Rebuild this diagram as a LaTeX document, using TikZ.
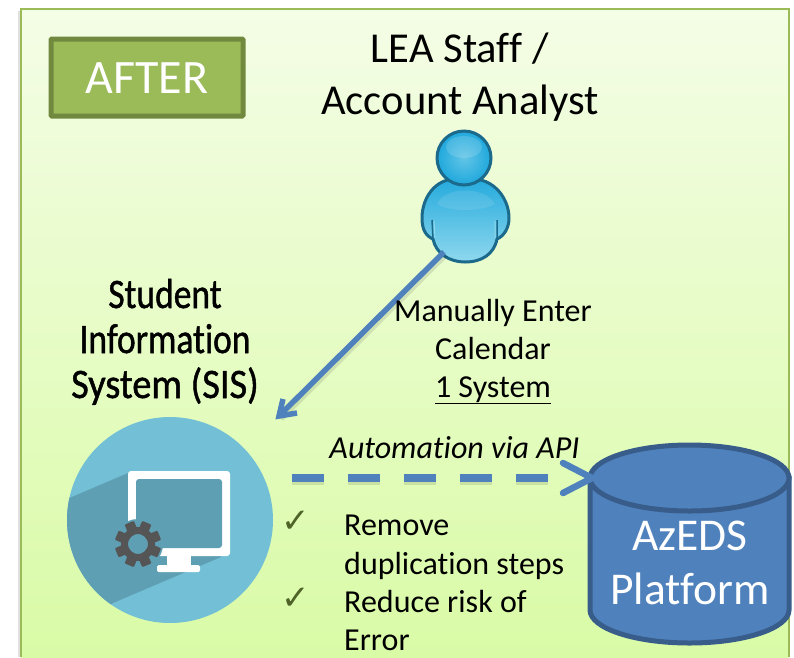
\documentclass[tikz,border=0pt]{standalone}
\usepackage{fontspec}
\setmainfont[Ligatures=NoCommon]{Carlito}
\newfontfamily\symfont{DejaVu Sans}
\newfontfamily\condfont[FakeBold=1.2,Ligatures=NoCommon]{Carlito}
\usetikzlibrary{arrows.meta,shadings}
\definecolor{panelline}{HTML}{9BBB59}
\definecolor{paneltop}{HTML}{F4FDE6}
\definecolor{panelbot}{HTML}{D9FBA6}
\definecolor{tagfill}{HTML}{9BBB59}
\definecolor{tagline}{HTML}{71893F}
\definecolor{flow}{HTML}{4F81BD}
\definecolor{flowdark}{HTML}{385D8A}
\definecolor{disc}{HTML}{72BFD6}
\definecolor{discshade}{HTML}{5F9FB3}
\definecolor{gearc}{HTML}{555555}
\definecolor{persona}{HTML}{1B6A8C}
\definecolor{personb}{HTML}{1FA8DC}
\definecolor{personc}{HTML}{8FD8EE}
\definecolor{checkc}{HTML}{4F6228}
\tikzset{
  x=1pt,y=-1pt,
  label28/.style={anchor=base,font=\fontsize{32}{32}\selectfont,inner sep=0pt},
  label38/.style={anchor=base,font=\fontsize{42.6}{42.6}\selectfont,inner sep=0pt},
  narrow/.style={anchor=base,font=\condfont\fontsize{42}{42}\selectfont,inner sep=0pt,xscale=.845},
  bullet/.style={anchor=base west,font=\fontsize{32}{32}\selectfont,inner sep=0pt},
  check/.style={anchor=base,font=\symfont\fontsize{34}{34}\selectfont,text=checkc,inner sep=0pt},
  white40/.style={anchor=base,font=\fontsize{45.5}{45.5}\selectfont,text=white,inner sep=0pt},
  flowline/.style={draw=flow,line width=5.5pt},
  dashline/.style={draw=flow,line width=8pt,dash pattern=on 32pt off 24pt},
  tiphead/.style={draw=flow,line width=6.5pt,line cap=round,line join=miter},
  shadowline/.style={draw=black,opacity=.10,line width=5pt},
  anchorbox/.style={inner sep=0pt,minimum size=0pt},
}
\begin{document}
\begin{tikzpicture}
\useasboundingbox (0,0) rectangle (794,657);
% panel
\fill[black,opacity=.12] (18,11) rectangle (22,657);
\shade[top color=paneltop,bottom color=panelbot] (21,9) rectangle (789,657);
\draw[panelline,line width=2.5pt] (21,657) -- (21,9) -- (789,9) -- (789,657);
% tag
\node[draw=tagline,fill=tagfill,line width=5pt,rounded corners=1pt,minimum width=192pt,minimum height=77pt,inner sep=0pt] (tag) at (147,77.5) {};
\node[white40,font=\fontsize{48}{48}\selectfont] (tagtext) at (147,93) {AFTER};
% title
\node[label38] (t1) at (460,62) {LEA Staf\kern0pt f /};
\node[label38] (t2) at (460,114) {Account Analyst};
% person
\begin{scope}
\path[draw=persona,line width=3pt,top color=personb,bottom color=personc]
  (464,180) .. controls (438,174) and (422,196) .. (422,218)
  .. controls (422,230) and (426,236) .. (433,239)
  .. controls (436,254) and (450,262) .. (465,262)
  .. controls (482,262) and (494,254) .. (497,239)
  .. controls (504,236) and (509,228) .. (509,218)
  .. controls (509,196) and (490,174) .. (464,180) -- cycle;
\fill[white,opacity=.10] (437,204) .. controls (445,186) and (485,186) .. (495,204) .. controls (480,212) and (450,212) .. (437,204) -- cycle;
\draw[persona,line width=1.5pt] (432,220) -- (433,239) (497,220) -- (497,239);
\draw[personc,line width=1pt] (434,221) -- (435,238) (495,221) -- (495,238);
\path[draw=persona,line width=3pt,inner color=personc!60!personb,outer color=personb] (464,158) circle[radius=27];
\fill[white,opacity=.14] (464,147) ellipse[x radius=18,y radius=11];
\end{scope}
\node[anchorbox] (person) at (444,252) {};
% SIS heading
\node[narrow] (s1) at (165,308) {Student};
\node[narrow] (s2) at (165,353) {Informat\kern0pt ion};
\node[narrow,xscale=1.08] (s3) at (165,398) {System (SIS)};
% SIS disc
\node[circle,fill=disc,minimum size=206pt,inner sep=0pt] (sis) at (170,520) {};
\begin{scope}
\clip (170,520) circle[radius=103];
\fill[discshade] (128,473) -- (60,502) -- (60,640) -- (113,603) -- (221,557) -- (222,480) -- cycle;
\end{scope}
\fill[white,rounded corners=3pt] (128,471) rectangle (230,556);
\fill[discshade,rounded corners=3pt] (136,479) rectangle (222,548);
\fill[white] (167,556) rectangle (191,566);
\fill[white,rounded corners=1.5pt] (157,565) rectangle (200,572);
% gear
\fill[discshade] (138,544) circle[radius=25];
\begin{scope}[shift={(138,544)}]
\foreach \a in {0,45,...,315}{
  \fill[gearc,rotate=\a+22.5,rounded corners=1pt] (-5,-23) rectangle (5,-12);
}
\draw[gearc,line width=7pt] (0,0) circle[radius=13.5];
\end{scope}
% connector SIS
\coordinate (sisin) at (279,416);
\draw[shadowline] ([xshift=2pt,yshift=-3pt]person.center) -- ([xshift=2pt,yshift=-3pt]sisin);
\draw[flowline] (person.center) -- (sisin);
\draw[flowline,line join=miter,miter limit=10] (283,399) -- (sisin) -- (297,413);
% labels
\node[label28] (m1) at (493,321) {Manually Enter};
\node[label28] (m2) at (493,359) {Calendar};
\node[label28] (m3) at (493,397) {\underline{1 System}};
\node[label28,font=\fontsize{32}{32}\selectfont\itshape] (api) at (454.5,458) {Automat\kern0pt ion via API};
% platform
\path[draw=flowdark,fill=flow,line width=5pt] (590,478) -- (590,610)
  arc[start angle=180,end angle=0,x radius=99.5,y radius=33] -- (789,478) -- cycle;
\draw[draw=flowdark,fill=flow,line width=5pt] (689.5,478) ellipse[x radius=99.5,y radius=33];
\node[anchorbox,minimum width=200pt,minimum height=198pt] (azeds) at (690,544) {};
\node[white40] (a1) at (690,550) {AzEDS};
\node[white40] (a2) at (690,604) {Platform};
% dashed
\coordinate (apistart) at (292,478);
\coordinate (apitip) at (592,478);
\draw[dashline,draw=black,opacity=.10] ([yshift=-3pt]apistart) -- (548,481);
\draw[dashline] (apistart) -- (548,478);
\draw[tiphead] (563,463) -- (apitip) -- (563,493);
% bullets
\node[check] (c1) at (296,532) {✓};
\node[check] (c2) at (296,609) {✓};
\node[bullet] (b1) at (344,535) {Remove};
\node[bullet] (b2) at (344,574) {duplicat\kern0pt ion steps};
\node[bullet] (b3) at (344,612) {Reduce risk of};
\node[bullet] (b4) at (344,650) {Error};
\end{tikzpicture}
\end{document}
